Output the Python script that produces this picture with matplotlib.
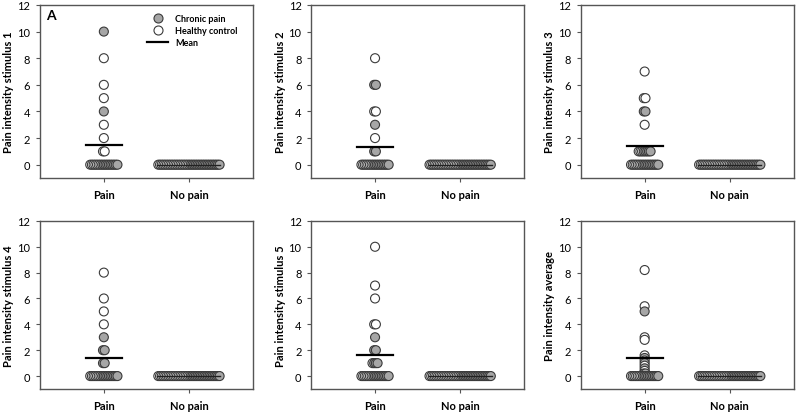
import matplotlib
matplotlib.use("Agg")
import matplotlib.pyplot as plt
from matplotlib.lines import Line2D
import numpy as np

plt.rcParams['font.family'] = ['Lato', 'DejaVu Sans']

# ---- data ----
groups = ["Pain", "No pain"]
ylabels = ["Pain intensity stimulus 1", "Pain intensity stimulus 2", "Pain intensity stimulus 3",
           "Pain intensity stimulus 4", "Pain intensity stimulus 5", "Pain intensity average"]

# Pain group: healthy control (open) and chronic pain (gray)
hc_pain_1 = [8, 6, 5, 3, 2, 1, 1] + [0] * 7
cp_pain_1 = [10, 4] + [0] * 10
hc_pain_2 = [8, 4, 4, 2] + [0] * 7
cp_pain_2 = [6, 6, 3, 1, 1] + [0] * 10
hc_pain_3 = [7, 5, 5, 3, 1, 1, 1] + [0] * 7
cp_pain_3 = [4, 4, 1, 1, 1, 1, 1] + [0] * 10
hc_pain_4 = [8, 6, 5, 4] + [0] * 7
cp_pain_4 = [3, 2, 2, 1, 1] + [0] * 10
hc_pain_5 = [10, 7, 6, 4, 4, 1] + [0] * 7
cp_pain_5 = [3, 2, 2, 1, 1, 1] + [0] * 10
hc_pain_6 = [8.2, 5.4, 3.0, 2.8, 1.6, 1.2, 0.8, 0.4] + [0] * 7
cp_pain_6 = [5.0, 1.4, 1.0, 0.6, 0.2, 0.2] + [0] * 10

# No pain group: everyone at 0
hc_nopain = [0] * 19
cp_nopain = [0] * 18

means_pain = [1.5, 1.33, 1.38, 1.4, 1.63, 1.43]
means_nopain = [0, 0, 0, 0, 0, 0]

hc_pain = [hc_pain_1, hc_pain_2, hc_pain_3, hc_pain_4, hc_pain_5, hc_pain_6]
cp_pain = [cp_pain_1, cp_pain_2, cp_pain_3, cp_pain_4, cp_pain_5, cp_pain_6]

# ---- styling ----
OPEN_FC = "white"
GRAY_FC = "#a6a6a6"
EDGE = "#3a3a3a"
SPACING = 0.02
MS = 42


def arrange(center, hc, cp):
    xs, ys, cs = [], [], []
    vals = sorted(set(hc) | set(cp), reverse=True)
    for v in vals:
        pts = [OPEN_FC] * hc.count(v) + [GRAY_FC] * cp.count(v)
        n = len(pts)
        for i, c in enumerate(pts):
            xs.append(center + (i - (n - 1) / 2) * SPACING)
            ys.append(v)
            cs.append(c)
    return xs, ys, cs


fig = plt.figure(figsize=(8, 4.14), dpi=100)
lefts = [0.05, 0.389, 0.726]
width = 0.266
rows = [(0.5676, 0.418), (0.0580, 0.406)]

for k in range(6):
    r, c = divmod(k, 3)
    b, h = rows[r]
    ax = fig.add_axes([lefts[c], b, width, h])

    for gi, (hc, cp) in enumerate([(hc_pain[k], cp_pain[k]), (hc_nopain, cp_nopain)]):
        xs, ys, cs = arrange(gi, hc, cp)
        ax.scatter(xs, ys, s=MS, c=cs, edgecolors=EDGE, linewidths=0.8, zorder=3)

    ax.plot([-0.21, 0.21], [means_pain[k]] * 2, color="black", lw=1.6, zorder=4)
    ax.plot([0.63, 1.37], [means_nopain[k]] * 2, color="#222222", lw=1.0, zorder=4)

    ax.set_xlim(-0.75, 1.75)
    ax.set_ylim(-1, 12)
    ax.set_yticks(range(0, 13, 2))
    ax.set_xticks([0, 1])
    ax.set_xticklabels(groups, fontweight="bold", fontsize=8)
    ax.tick_params(axis="y", labelsize=8, length=3, color="#555555", pad=4)
    ax.tick_params(axis="x", length=3, color="#555555", pad=5)
    ax.set_ylabel(ylabels[k], fontweight="bold", fontsize=8, labelpad=2)
    for sp in ax.spines.values():
        sp.set_color("#555555")
        sp.set_linewidth(1.0)

    if k == 0:
        ax.text(0.03, 0.94, "A", transform=ax.transAxes, fontweight="bold", fontsize=10,
                va="center", ha="left")
        handles = [
            Line2D([], [], ls="none", marker="o", markersize=6.5, markerfacecolor=GRAY_FC,
                   markeredgecolor=EDGE, markeredgewidth=0.8),
            Line2D([], [], ls="none", marker="o", markersize=6.5, markerfacecolor=OPEN_FC,
                   markeredgecolor=EDGE, markeredgewidth=0.8),
            Line2D([], [], color="black", lw=1.6),
        ]
        leg = ax.legend(handles, ["Chronic pain", "Healthy control", "Mean"],
                        loc="upper right", bbox_to_anchor=(0.96, 0.985), frameon=False,
                        prop={"weight": "bold", "size": 6.5}, labelspacing=0.35,
                        handlelength=2.3, handletextpad=0.8, borderpad=0.2)

fig.savefig("out.png", dpi=100)
